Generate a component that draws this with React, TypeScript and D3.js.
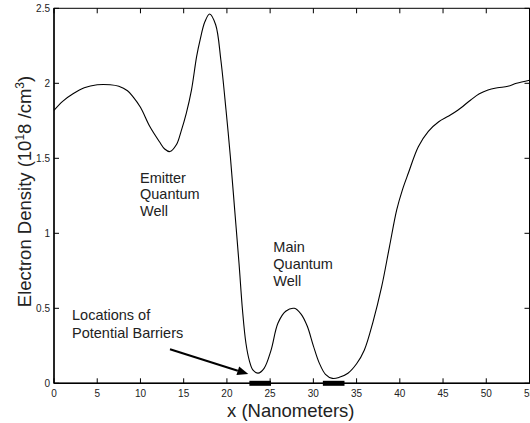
import React from "react";
import * as d3 from "d3";

const xs = [0, 1, 2.2, 3.5, 5, 6.5, 7.5, 8.5, 9.15, 10, 11.1, 12.2, 12.8, 13.4, 14.15, 14.7, 15.3, 15.9, 16.5, 16.9, 17.45, 18.0, 18.7, 19.3, 19.9, 20.4, 20.9, 21.4, 21.8, 22.2, 22.6, 23.0, 23.6, 24.3, 25.1, 25.9, 26.8, 27.8, 28.6, 29.3, 30.0, 30.7, 31.4, 32.2, 33.0, 34.0, 35.0, 35.9, 36.9, 37.9, 38.8, 39.64, 40.3, 40.98, 42.14, 43.3, 44.5, 45.6, 46.7, 48.2, 49.2, 50.2, 51.3, 52.5, 53.5, 55];
const density = [1.82, 1.88, 1.93, 1.97, 1.99, 1.99, 1.98, 1.95, 1.91, 1.84, 1.71, 1.61, 1.562, 1.545, 1.59, 1.68, 1.8, 1.955, 2.18, 2.29, 2.41, 2.462, 2.39, 2.155, 1.82, 1.51, 1.156, 0.8, 0.49, 0.267, 0.15, 0.089, 0.068, 0.1, 0.22, 0.4, 0.48, 0.5, 0.46, 0.38, 0.25, 0.133, 0.06, 0.033, 0.04, 0.067, 0.13, 0.222, 0.41, 0.644, 0.91, 1.156, 1.29, 1.4, 1.577, 1.68, 1.744, 1.78, 1.82, 1.889, 1.93, 1.956, 1.97, 1.98, 2.0, 2.02];
const xTicks = [0, 5, 10, 15, 20, 25, 30, 35, 40, 45, 50, 55];
const yTicks = [0, 0.5, 1, 1.5, 2, 2.5];
const barrierStart = [22.6, 31.1];
const barrierEnd = [25.1, 33.6];

const W = 530, H = 423;
const L = 54, R = 529.5, T = 8.3, B = 383.3;
const FONT = "'Liberation Sans', Arial, Helvetica, sans-serif";

export default function App() {
  const x = d3.scaleLinear().domain([0, 55]).range([L, R]);
  const y = d3.scaleLinear().domain([0, 2.5]).range([B, T]);
  const pts: [number, number][] = xs.map((v, i) => [v, density[i]]);
  const line = d3
    .line<[number, number]>()
    .x((d) => x(d[0]))
    .y((d) => y(d[1]))
    .curve(d3.curveCatmullRom.alpha(0.5));
  const tl = 5;
  const ax1 = 170, ay1 = 349.3, ax2 = 248.3, ay2 = 374;
  const ang = Math.atan2(ay2 - ay1, ax2 - ax1);
  const hl = 11, hw = 4.5;
  const bx = ax2 - hl * Math.cos(ang), by = ay2 - hl * Math.sin(ang);
  const head = `M${ax2},${ay2} L${bx + hw * Math.sin(ang)},${by - hw * Math.cos(ang)} L${bx - hw * Math.sin(ang)},${by + hw * Math.cos(ang)} Z`;
  return (
    <div style={{ position: "fixed", left: 0, top: 0 }}>
      <svg width={W} height={H} style={{ display: "block", background: "#fff" }} fontFamily={FONT}>
        <rect x={0} y={0} width={W} height={H} fill="#fff" />
        <rect x={L} y={T} width={R - L} height={B - T} fill="none" stroke="#000" strokeWidth={1} />
        <line x1={L} x2={R} y1={B} y2={B} stroke="#000" strokeWidth={1.6} />
        <line x1={L} x2={L} y1={T} y2={B} stroke="#000" strokeWidth={1.4} />
        {xTicks.map((t) => (
          <g key={"x" + t}>
            <line x1={x(t)} x2={x(t)} y1={B} y2={B - tl} stroke="#000" strokeWidth={1} />
            <line x1={x(t)} x2={x(t)} y1={T} y2={T + tl} stroke="#000" strokeWidth={1} />
            <text x={x(t)} y={397.3} fontSize={10} textAnchor="middle" fill="#222">{t}</text>
          </g>
        ))}
        {yTicks.map((t) => (
          <g key={"y" + t}>
            <line x1={L} x2={L + tl} y1={y(t)} y2={y(t)} stroke="#000" strokeWidth={1} />
            <line x1={R} x2={R - tl} y1={y(t)} y2={y(t)} stroke="#000" strokeWidth={1} />
            <text x={50} y={y(t) + 3.5} fontSize={10} textAnchor="end" fill="#222">{t}</text>
          </g>
        ))}
        <path d={line(pts) || ""} fill="none" stroke="#000" strokeWidth={1.1} />
        {barrierStart.map((s, i) => (
          <rect key={"b" + i} x={x(s)} y={B - 2.5} width={x(barrierEnd[i]) - x(s)} height={5} fill="#000" />
        ))}
        <g fontSize={14.5} fill="#222">
          <text x={140} y={182.7}>Emitter</text>
          <text x={140} y={199.3}>Quantum</text>
          <text x={140} y={215.7}>Well</text>
          <text x={273.3} y={252.3}>Main</text>
          <text x={273.3} y={269}>Quantum</text>
          <text x={273.3} y={285.5}>Well</text>
          <text x={72} y={320}>Locations of</text>
          <text x={72} y={337.7}>Potential Barriers</text>
        </g>
        <line x1={ax1} y1={ay1} x2={bx} y2={by} stroke="#000" strokeWidth={2} />
        <path d={head} fill="#000" />
        <text x={290.8} y={416.5} fontSize={18.5} textAnchor="middle" fill="#222">x (Nanometers)</text>
        <text transform={`translate(30.5,191.5) rotate(-90)`} fontSize={18.5} textAnchor="middle" fill="#222">
          Electron Density (10<tspan dy={-7} fontSize={12}>1</tspan><tspan dy={7}>8 /cm</tspan><tspan dy={-7} fontSize={12}>3</tspan><tspan dy={7}>)</tspan>
        </text>
      </svg>
    </div>
  );
}
